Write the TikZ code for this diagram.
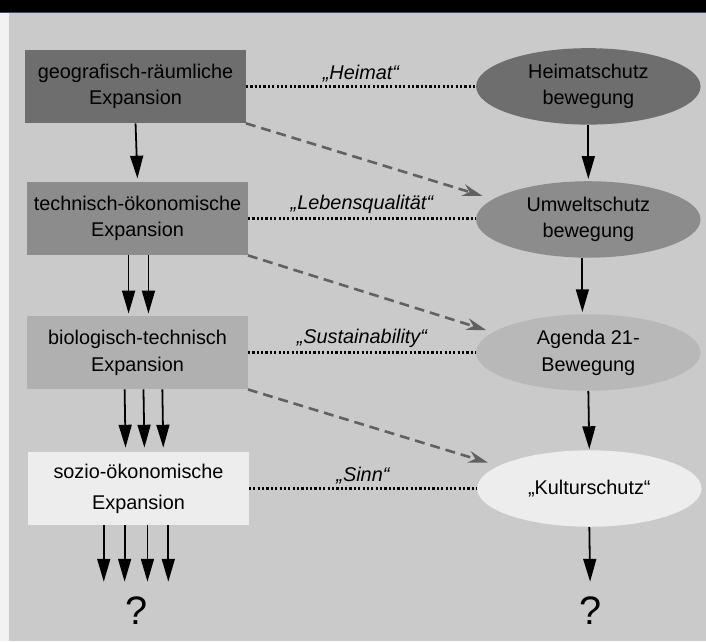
\documentclass[tikz,border=0pt]{standalone}
\usepackage{fontspec}
\setmainfont{Liberation Sans}
\usetikzlibrary{arrows.meta,shapes.geometric}

\definecolor{paper}{RGB}{202,202,202}
\definecolor{shadeA}{RGB}{110,110,110}
\definecolor{shadeB}{RGB}{140,140,140}
\definecolor{shadeC}{RGB}{176,176,176}
\definecolor{shadeD}{RGB}{237,237,237}
\definecolor{titleline}{RGB}{60,70,130}

\tikzset{
    expbox/.style={rectangle, inner sep=0pt, minimum width=222bp, minimum height=74bp,
        align=center, font=\fontsize{20bp}{27bp}\selectfont},
    movement/.style={ellipse, inner sep=0pt, minimum width=226bp, minimum height=77bp,
        align=center, font=\fontsize{20bp}{27bp}\selectfont},
    keyword/.style={midway, above=0pt, font=\fontsize{20bp}{24bp}\selectfont\itshape},
    qmark/.style={inner sep=0pt, font=\fontsize{40bp}{40bp}\selectfont},
    down/.style={line width=1.8bp, -{Triangle[length=23bp,width=13bp]}},
    link/.style={line width=2.4bp, dash pattern=on 2.2bp off 2.2bp, black},
    influence/.style={line width=2.6bp, dash pattern=on 10bp off 6bp, black!62,
        -{Stealth[length=20bp,width=12bp]}}
}

\begin{document}
\begin{tikzpicture}[x=1bp, y=-1bp]
    \fill[paper] (-2,-2) rectangle (708,644);
    \fill[black!5] (-2,10) rectangle (7,644);
    \fill[black] (-2,-2) rectangle (708,10);
    \draw[titleline, line width=1bp] (-2,10.5) -- (708,10.5);
    \useasboundingbox (0,0) rectangle (706,642);

    \node[expbox, fill=shadeA] (b1) at (134,85) {geografisch-räumliche\\Expansion};
    \node[expbox, fill=shadeB] (b2) at (136,218) {technisch-ökonomische\\Expansion};
    \node[expbox, fill=shadeC] (b3) at (136,353) {biologisch-technisch\\Expansion};
    \node[expbox, fill=shadeD, font=\fontsize{20bp}{31bp}\selectfont] (b4) at (137,490) {sozio-ökonomische\\Expansion};

    \node[movement, fill=shadeA] (e1) at (590,85) {Heimatschutz\\bewegung};
    \node[movement, fill=shadeB] (e2) at (590,219) {Umweltschutz\\bewegung};
    \node[movement, fill=shadeC!90!white] (e3) at (590,353) {Agenda 21-\\Bewegung};
    \node[movement, fill=shadeD] (e4) at (591,490) {„Kulturschutz“};

    \node[qmark] (q1) at (135,613) {?};
    \node[qmark] (q2) at (592,613) {?};

    \draw[link] (b1.east) -- (b1.east -| e1.west) node[keyword] {„Heimat“};
    \draw[link] (b2.east) -- (b2.east -| e2.west) node[keyword] {„Lebensqualität“};
    \draw[link] (b3.east) -- (b3.east -| e3.west) node[keyword] {„Sustainability“};
    \draw[link] (b4.east) -- (b4.east -| e4.west) node[keyword] {„Sinn“};

    \draw[influence, shorten >=11bp] (b1.south east) -- (e2.168);
    \draw[influence, shorten >=7bp] (b2.south east) -- (e3.168);
    \draw[influence, shorten >=11bp] (b3.south east) -- (e4.166);

    \draw[down, shorten >=3bp] (b1.south) -- (b2.north);
    \draw[down, shorten >=2bp] ([xshift=-9bp]b2.south) -- ([xshift=-9bp]b3.north);
    \draw[down, shorten >=2bp] ([xshift=11bp]b2.south) -- ([xshift=11bp]b3.north);
    \foreach \dx in {-13,6,25}
        \draw[down, shorten >=4bp] ([xshift=\dx bp]b3.south) -- ([xshift=\dx bp]b4.north);
    \foreach \dx in {-35,-14,9,30}
        \draw[down, shorten >=15bp] ([xshift=\dx bp]b4.south) -- ([xshift=\dx bp]b4.south |- q1.north);

    \draw[down, shorten >=2bp] (e1.south) -- (e2.north);
    \draw[down, shorten >=2bp] ([xshift=-6bp]e2.south) -- ([xshift=-6bp]e3.north);
    \draw[down, shorten >=1bp] (e3.south) -- (e4.north);
    \draw[down, shorten >=15bp] (e4.south) -- (q2.north);
\end{tikzpicture}
\end{document}
